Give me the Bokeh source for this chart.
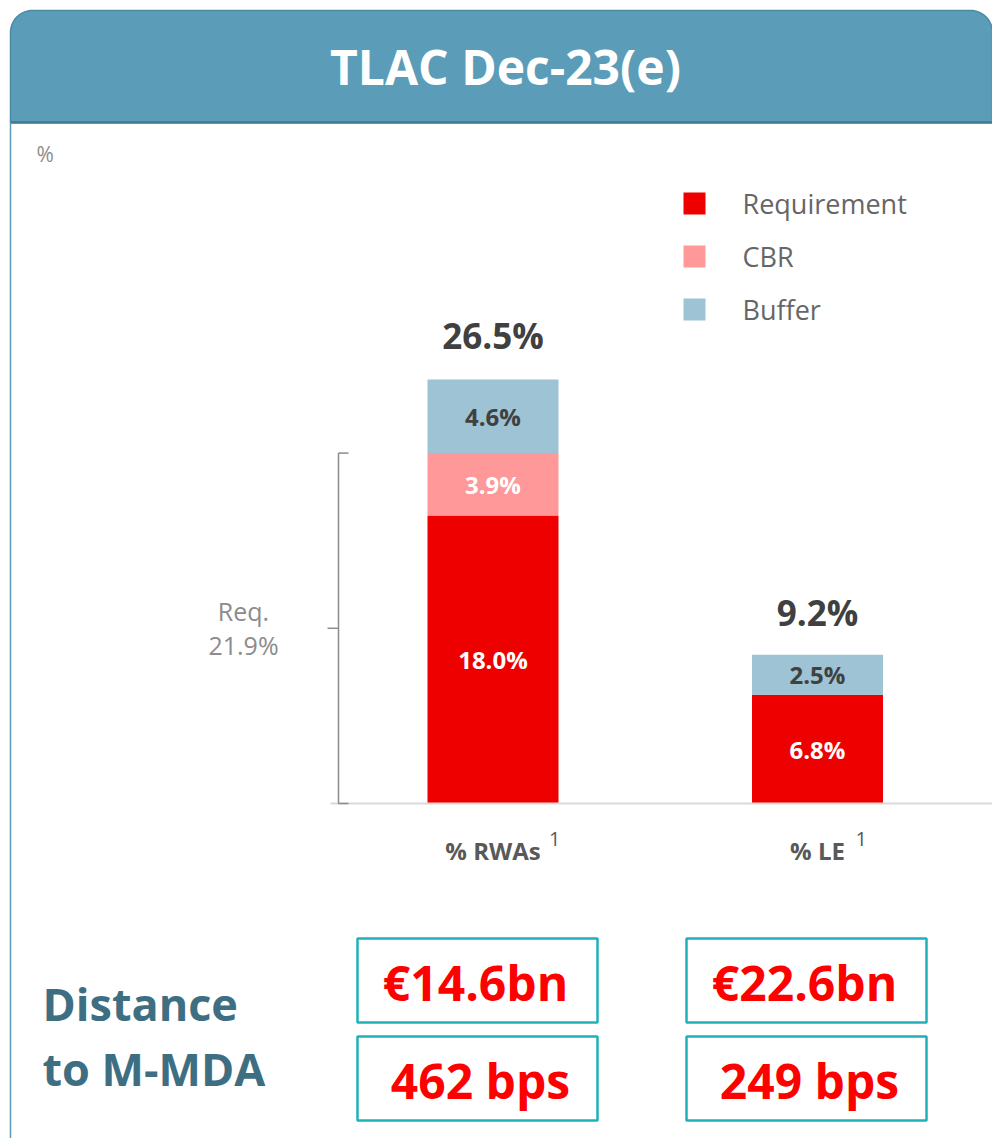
import numpy as np
from bokeh.plotting import figure
from bokeh.models import Range1d
from bokeh.core.properties import value
from bokeh.embed import file_html
from bokeh.resources import INLINE

# ---------------- data ----------------
title = "TLAC Dec-23(e)"
unit_label = "%"
categories = ["% RWAs", "% LE"]
series_names = ["Requirement", "CBR", "Buffer"]
requirement = [18.0, 6.8]
cbr = [3.9, 0.0]
buffer = [4.6, 2.5]
totals = [26.5, 9.2]
req_total = 21.9
req_label = "Req."
footnote = "1"
side_title = ["Distance", "to M-MDA"]
distance_eur = ["€14.6bn", "€22.6bn"]
distance_bps = ["462 bps", "249 bps"]

# ---------------- styles ----------------
FONT = "Open Sans"
colors = ["#EE0000", "#FF9898", "#9DC3D4"]
seg_text_colors = ["white", "white", "#404040"]
W, H = 992, 1138

p = figure(width=W, height=H, output_backend="svg", toolbar_location=None,
           x_range=Range1d(-1.0177, 2.0393), y_range=Range1d(-20.9375, 50.1875),
           x_axis_location=None, y_axis_location=None, min_border=0,
           background_fill_color="white", border_fill_color="white")
p.outline_line_color = None
p.xgrid.visible = False
p.ygrid.visible = False
# pixel ranges (picture coordinates) for layout decorations
p.extra_x_ranges = {"px": Range1d(0, W)}
p.extra_y_ranges = {"py": Range1d(H, 0)}
PX = dict(x_range_name="px", y_range_name="py")

# ---------------- header ----------------
r = 22
ang_l = np.linspace(np.pi, 1.5 * np.pi, 20)
ang_r = np.linspace(1.5 * np.pi, 2 * np.pi, 20)
hx = [10] + list(10 + r + r * np.cos(ang_l)) + list(992 - r + r * np.cos(ang_r)) + [992]
hy = [122] + list(10 + r + r * np.sin(ang_l)) + list(10 + r + r * np.sin(ang_r)) + [122]
p.patch(hx, hy, fill_color="#5B9DB8", line_color="#4A8BA5", line_width=1.5, **PX)
p.segment(x0=[10], y0=[122], x1=[1000], y1=[122], line_color="#3E7C92", line_width=2.5, **PX)
p.segment(x0=[10], y0=[122], x1=[10], y1=[1140], line_color="#5B9DB8", line_width=1.5, **PX)
p.text(x=[505], y=[66], text=[title], text_font=value(FONT), text_font_size="48px",
       text_font_style="bold", text_color="white", text_align="center",
       text_baseline="middle", **PX)
p.text(x=[36], y=[153], text=[unit_label], text_font=value(FONT), text_font_size="21px",
       text_color="#8C8C8C", text_align="left", text_baseline="middle", **PX)

# ---------------- legend ----------------
for i, (name, c) in enumerate(zip(series_names, colors)):
    ly = 203 + i * 53
    p.rect(x=[694], y=[ly], width=22, height=22, fill_color=c, line_color=None, **PX)
    p.text(x=[742], y=[ly], text=[name], text_font=value(FONT), text_font_size="27px",
           text_color="#666666", text_align="left", text_baseline="middle", **PX)

# ---------------- bars ----------------
xs = np.arange(len(categories)) + 0.5
bar_w = 0.4037
series = [requirement, cbr, buffer]
bottom = np.zeros(len(categories))
for vals, c, tc in zip(series, colors, seg_text_colors):
    vals = np.array(vals)
    p.vbar(x=xs, bottom=bottom, top=bottom + vals, width=bar_w, fill_color=c, line_color=None)
    mask = vals > 0
    p.text(x=xs[mask], y=(bottom + vals / 2)[mask],
           text=[f"{v:.1f}%" for v in vals[mask]], text_font=value(FONT),
           text_font_size="24px", text_font_style="bold", text_color=tc,
           text_align="center", text_baseline="middle")
    bottom = bottom + vals

p.text(x=xs, y=totals, y_offset=-44, text=[f"{t:.1f}%" for t in totals], text_font=value(FONT),
       text_font_size="35px", text_font_style="bold", text_color="#404040",
       text_align="center", text_baseline="alphabetic")

# baseline
p.segment(x0=[330], y0=[0], x1=[992], y1=[0], line_color="#D9D9D9", line_width=2,
          x_range_name="px")

# category labels
p.text(x=xs, y=[0] * len(xs), y_offset=47, text=categories, text_font=value(FONT),
       text_font_size="24px", text_font_style="bold", text_color="#595959",
       text_align="center", text_baseline="middle")
sup_offsets = [56, 38]
p.text(x=xs, y=[0] * len(xs), y_offset=35, x_offset=sup_offsets,
       text=[footnote] * len(xs), text_font=value(FONT),
       text_font_size="20px", text_color="#595959",
       text_align="left", text_baseline="middle")

# bracket for requirement
bc = "#8C8C8C"
p.segment(x0=[338, 338, 338, 327], y0=[0, 0, req_total, req_total / 2],
          x1=[338, 348, 348, 338], y1=[req_total, 0, req_total, req_total / 2],
          line_color=bc, line_width=1.5, x_range_name="px")
p.text(x=[243, 243], y=[req_total / 2] * 2, y_offset=[-17, 17],
       text=[req_label, f"{req_total:.1f}%"], text_font=value(FONT), text_font_size="25px",
       text_color=bc, text_align="center", text_baseline="middle", x_range_name="px")

# ---------------- distance to M-MDA ----------------
p.text(x=[42, 42], y=[1003, 1068], text=side_title, text_font=value(FONT),
       text_font_size="45px", text_font_style="bold", text_color="#3E6E82",
       text_align="left", text_baseline="middle", **PX)
box_x = [477, 806]
box_y = [980, 1078]
for bx, eur, bps in zip(box_x, distance_eur, distance_bps):
    p.rect(x=[bx, bx], y=box_y, width=240, height=84, fill_color=None,
           line_color="#1FB1B9", line_width=2.5, **PX)
    p.text(x=[bx - 2, bx + 3], y=[b + 2 for b in box_y], text=[eur, bps], text_font=value(FONT),
           text_font_size="48px", text_font_style="bold", text_color="#FF0000",
           text_align="center", text_baseline="middle", **PX)

open("out.html", "w").write(file_html(p, INLINE))
